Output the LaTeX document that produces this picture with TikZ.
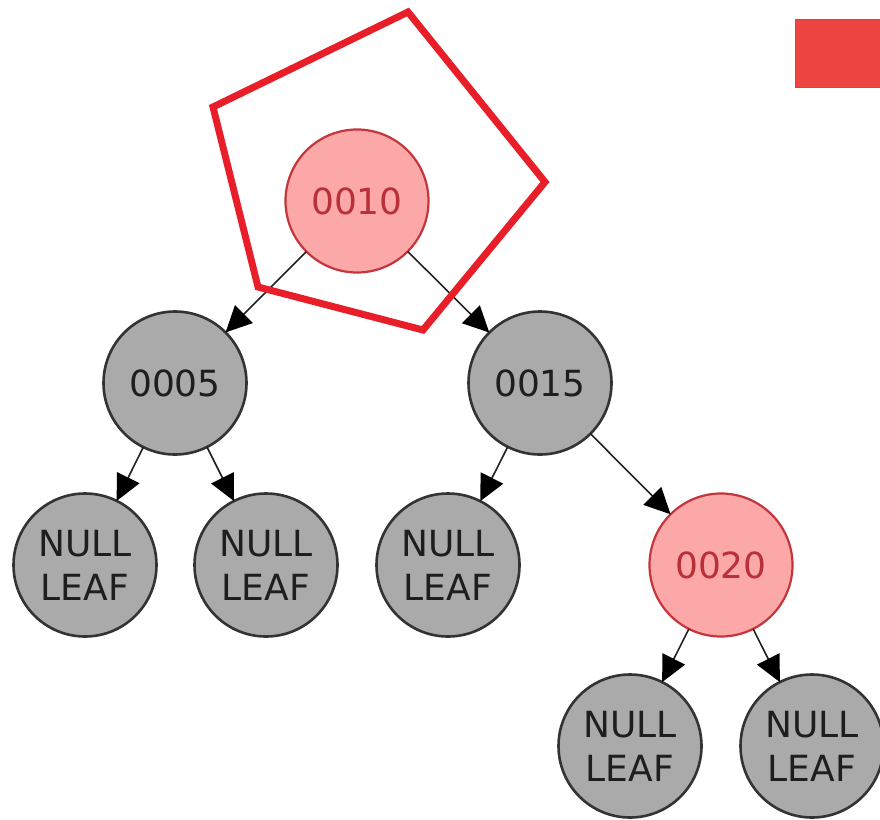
\documentclass[tikz,border=0pt]{standalone}
\usepackage{fontspec}
\setmainfont{DejaVu Sans}
\usetikzlibrary{arrows.meta}
\definecolor{nodegray}{HTML}{AAAAAA}
\definecolor{bordergray}{HTML}{333333}
\definecolor{textgray}{HTML}{1E1E1E}
\definecolor{redfill}{HTML}{FCA8A8}
\definecolor{redborder}{HTML}{C4363C}
\definecolor{redtext}{HTML}{B8303A}
\definecolor{edgecol}{HTML}{222222}
\definecolor{pentred}{HTML}{E81E28}
\definecolor{boxred}{HTML}{EF4542}
\definecolor{boxborder}{HTML}{5B6E9C}
\begin{document}
\begin{tikzpicture}[x=1pt,y=-1pt,
  treenode/.style={circle, minimum size=143pt, inner sep=0pt, outer sep=0pt,
    line width=2.6pt, draw=bordergray, fill=nodegray, text=textgray,
    font=\fontsize{36}{44}\selectfont, align=center},
  rednode/.style={treenode, line width=2.2pt, draw=redborder, fill=redfill, text=redtext},
  edgeline/.style={line width=1.6pt, draw=edgecol,
    -{Triangle[length=26pt,width=25pt,color=black]}},
  pent/.style={draw=pentred, line width=7pt, line join=miter}]
\useasboundingbox (0,0) rectangle (880,819);
% red box
\draw[fill=boxred, draw=boxborder, line width=1pt] (795,19) rectangle (890,87);
% nodes
\node[rednode]  (n10) at (357,201) {0010};
\node[treenode] (n5)  at (175,383) {0005};
\node[treenode] (n15) at (540,383) {0015};
\node[treenode] (l1)  at (85,565)  {NULL\\LEAF};
\node[treenode] (l2)  at (266,565) {NULL\\LEAF};
\node[treenode] (l3)  at (448,565) {NULL\\LEAF};
\node[rednode]  (n20) at (721,565) {0020};
\node[treenode] (l4)  at (630,746) {NULL\\LEAF};
\node[treenode] (l5)  at (812,746) {NULL\\LEAF};
% edges
\draw[edgeline] (n10) -- (n5);
\draw[edgeline] (n10) -- (n15);
\draw[edgeline] (n5) -- (l1);
\draw[edgeline] (n5) -- (l2);
\draw[edgeline] (n15) -- (l3);
\draw[edgeline] (n15) -- (n20);
\draw[edgeline] (n20) -- (l4);
\draw[edgeline] (n20) -- (l5);
% pentagon
\coordinate (p1) at (408,12);
\coordinate (p2) at (545,182);
\coordinate (p3) at (423,330);
\coordinate (p4) at (258,287);
\coordinate (p5) at (213,107);
\draw[pent] (p1) -- (p2) -- (p3) -- (p4) -- (p5) -- cycle;
\end{tikzpicture}
\end{document}
